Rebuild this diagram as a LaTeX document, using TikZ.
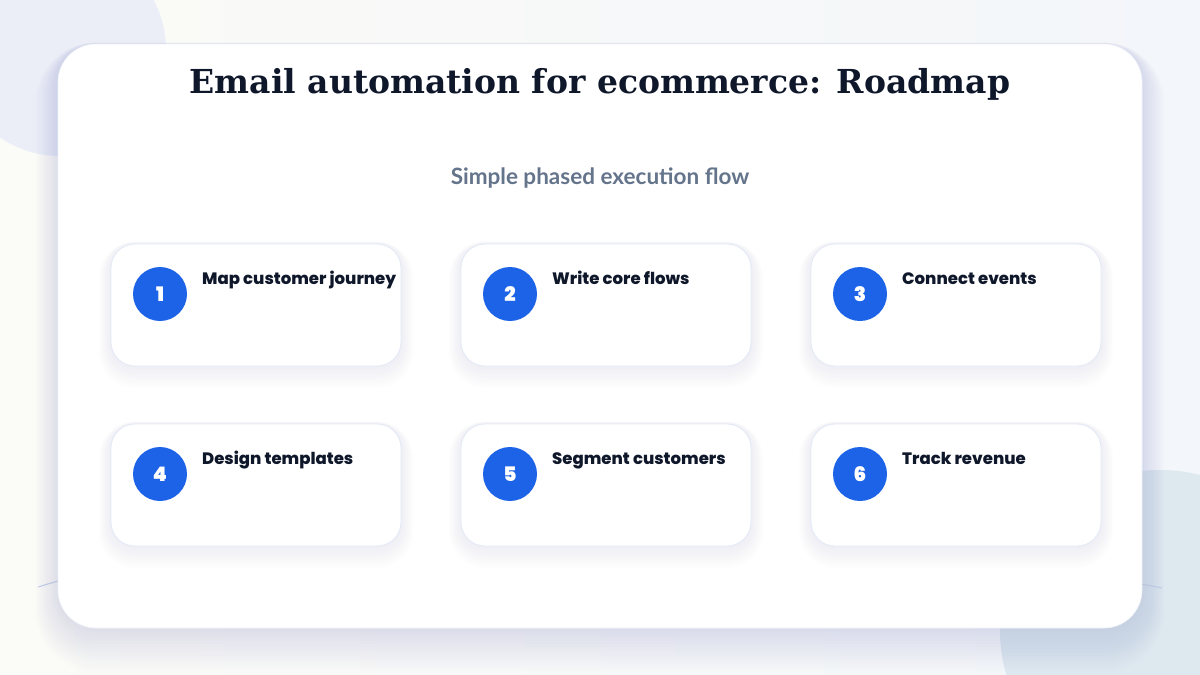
\documentclass[tikz,border=0pt]{standalone}
\usepackage{fontspec}
\setmainfont{DejaVu Serif}
\newfontfamily\labfont{Poppins}[BoldFont={Poppins ExtraBold}]
\newfontfamily\numfont{Poppins}[BoldFont={Poppins Black}]
\newfontfamily\subfont{Lato}
\usetikzlibrary{calc}
\definecolor{bgL}{HTML}{FBFBF7}
\definecolor{bgR}{HTML}{F3F6FA}
\definecolor{blobA}{HTML}{EBEEF7}
\definecolor{blobB}{HTML}{DDE8EF}
\definecolor{ink}{HTML}{0F172A}
\definecolor{subc}{HTML}{64748B}
\definecolor{numblue}{HTML}{1C63E8}
\definecolor{cardline}{HTML}{E3E9F6}
\definecolor{shadowc}{HTML}{8C97BD}
\definecolor{wave}{HTML}{C3CDEA}
\tikzset{
  stepcard/.style={draw=cardline, line width=0.8pt, fill=white, rounded corners=24pt,
    minimum width=290pt, minimum height=122pt, inner sep=0pt},
  numdot/.style={circle, fill=numblue, minimum size=54pt, inner sep=0pt,
    text=white, font=\numfont\bfseries\fontsize{20}{20}\selectfont},
  steplabel/.style={anchor=base west, inner sep=0pt, text=ink,
    font=\labfont\bfseries\fontsize{16.5}{18}\selectfont},
}
\begin{document}
\begin{tikzpicture}[x=1pt,y=-1pt]
\useasboundingbox (0,0) rectangle (1200,675);
% background
\shade[left color=bgL, right color=bgR] (0,0) rectangle (1200,675);
\fill[blobA] (60,50) circle (106);
\fill[blobB] (1160,630) circle (160);
% faint wave
\draw[wave, line width=1pt] (38,587) .. controls (250,520) and (500,560) .. (700,570) .. controls (900,580) and (1050,565) .. (1162,588);
% main card shadow
\foreach \i in {1,...,14} {
  \pgfmathsetmacro\r{38+\i*1.6}
  \fill[shadowc, opacity=0.016, rounded corners=\r pt]
    (58-\i*1.6, 44-\i*1.6+\i*1.5) rectangle (1142+\i*1.6, 628+\i*1.6+\i*1.5);
}
\node[fill=white, draw=cardline!60, line width=0.6pt, rounded corners=38pt,
  minimum width=1084pt, minimum height=584pt, inner sep=0pt] (main) at (600,336) {};
% title and subtitle
\node[anchor=base, inner sep=0pt, text=ink, font=\bfseries\fontsize{33}{36}\selectfont] (title) at (600,93)
  {Email automation for ecommerce: Roadmap};
\node[anchor=base, inner sep=0pt, text=subc, font=\subfont\bfseries\fontsize{22.5}{24}\selectfont] (sub) at (600,184)
  {Simple phased execution flow};
% step cards
\foreach \n/\x/\y/\t in {1/111/244/Map customer journey, 2/461/244/Write core flows, 3/811/244/Connect events,
                        4/111/424/Design templates, 5/461/424/Segment customers, 6/811/424/Track revenue} {
  \foreach \i in {1,...,8} {
    \pgfmathsetmacro\r{24+\i*1.5}
    \fill[shadowc, opacity=0.016, rounded corners=\r pt]
      (\x-\i*1.5, \y-\i*1.5+\i*1.2) rectangle (\x+290+\i*1.5, \y+122+\i*1.5+\i*1.2);
  }
  \node[stepcard] (card\n) at (\x+145,\y+61) {};
  \node[numdot] (dot\n) at (\x+49,\y+50) {\n};
  \node[steplabel] (lab\n) at (\x+91,\y+40) {\t};
}
\end{tikzpicture}
\end{document}
